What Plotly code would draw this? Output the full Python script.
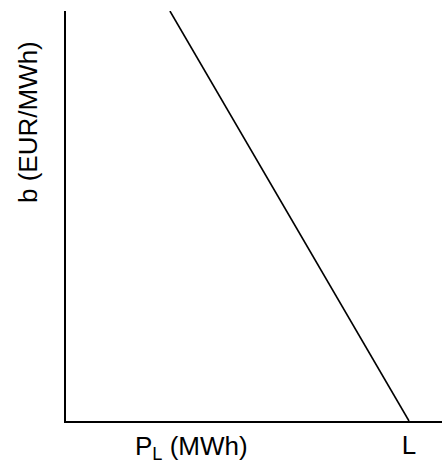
import plotly.graph_objects as go

# Data (normalized units: L = 1)
line_x = [0.303, 1.0]
line_y = [1.0, 0.0]
x_tick_vals = [1.0]
x_tick_text = ["L"]
x_title = "P<sub>L</sub> (MWh)"
y_title = "b (EUR/MWh)"

W, H = 442, 468
ml, mr, mt, mb = 66, 0, 11, 47
PW, PH = W - ml - mr, H - mt - mb  # 376 x 410

fig = go.Figure()
fig.add_trace(go.Scatter(x=line_x, y=line_y, mode="lines",
                         line=dict(color="black", width=1.6),
                         showlegend=False, hoverinfo="skip", cliponaxis=True))

font = dict(family="Liberation Sans, Arial, sans-serif", size=26, color="black")

fig.update_layout(
    width=W, height=H,
    margin=dict(l=ml, r=mr, t=mt, b=mb, pad=0),
    paper_bgcolor="white", plot_bgcolor="white",
    font=font,
    xaxis=dict(range=[0, 376/343], showline=True, linecolor="black", linewidth=2,
               showgrid=False, zeroline=False, tickvals=x_tick_vals, ticktext=x_tick_text,
               ticks="", ticklen=0, tickfont=font, fixedrange=True),
    yaxis=dict(range=[0, 1], showline=True, linecolor="black", linewidth=2,
               showgrid=False, zeroline=False, showticklabels=False, ticks="",
               fixedrange=True),
    annotations=[
        dict(text=x_title, x=(191 - ml) / PW, xref="paper", y=(421 - 447) / PH, yref="paper",
             showarrow=False, font=font, xanchor="center", yanchor="middle"),
        dict(text=y_title, x=(28 - ml) / PW, xref="paper", y=(421 - 122) / PH, yref="paper",
             textangle=-90, showarrow=False, font=font, xanchor="center", yanchor="middle"),
    ],
)

fig.write_html("out.html",
               config={"displayModeBar": False},
               post_script="document.body.style.margin='0';document.body.style.overflow='hidden';")
